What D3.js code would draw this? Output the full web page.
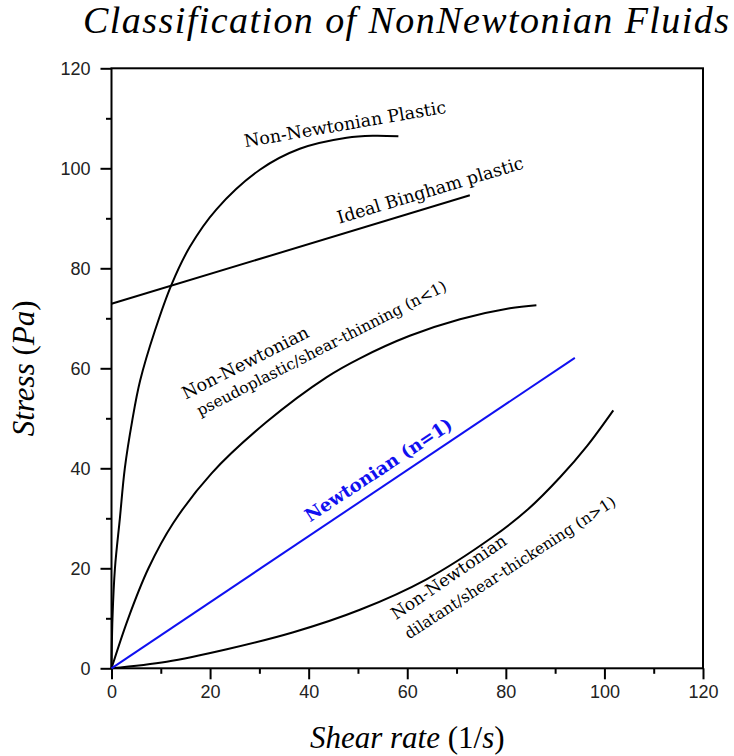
<!DOCTYPE html>
<html>
<head>
<meta charset="utf-8">
<script src="https://cdn.jsdelivr.net/npm/d3@7"></script>
<style>
  body { margin: 0; background: #fff; }
  svg { display: block; }
</style>
</head>
<body>
<svg id="chart" width="734" height="756"></svg>
<script>
// data (shear rate in 1/s, stress in Pa)
var plasticX = [0, 0.2, 0.7, 1.7, 2.7, 4.2, 5.8, 8.8, 12.2, 15.9, 21.3, 30.1, 38.2, 47.7, 53, 58.2];
var plasticY = [0, 10, 20, 30, 40, 49.5, 57.5, 67.5, 76.8, 84.3, 91.8, 99.7, 103.9, 106.1, 106.5, 106.4];
var binghamX = [0, 72.7];
var binghamY = [72.9, 94.6];
var pseudoX = [0, 3.4, 7.5, 12.5, 20.3, 31.5, 43.6, 50.4, 60.5, 70.7, 80.8, 86.2];
var pseudoY = [0, 10, 20, 29, 39, 49.3, 58.2, 62, 66.5, 69.8, 72, 72.6];
var newtonX = [0, 94];
var newtonY = [0, 62.1];
var dilatX = [0, 11.2, 23.4, 36.9, 50.4, 63.9, 77.4, 84.5, 91, 96.5, 101.8];
var dilatY = [0, 1.3, 3.8, 7.2, 11.7, 17.8, 26.3, 31.8, 38.2, 44.5, 51.6];
var majorTicks = [0, 20, 40, 60, 80, 100, 120];
var minorTicks = [10, 30, 50, 70, 90, 110];

var STROKE = "#000";
var BLUE = "#1010f0";
var LABEL_FONT = "'DejaVu Serif', serif";
var MATH_FONT = "'Liberation Serif', serif";

var margin = {left: 111.5, right: 31, top: 68.3, bottom: 87.7};
var width = 734 - margin.left - margin.right
  , height = 756 - margin.top - margin.bottom;

var svg = d3.select("#chart");
var g = svg.append("g").attr("transform", "translate(" + margin.left + "," + margin.top + ")");

var x = d3.scaleLinear().domain([0, 120]).range([0, width]);
var y = d3.scaleLinear().domain([0, 120]).range([height, 0]);

// Helpers
var zipXY = function(xs, ys) {
  return xs.map(function(v, i) { return [v, ys[i]]; });
}

var line = d3.line()
  .x(function(d) { return x(d[0]); })
  .y(function(d) { return y(d[1]); })
  .curve(d3.curveCatmullRom.alpha(0.5));

var addCurve = function(xs, ys, color) {
  g.append("path")
    .datum(zipXY(xs, ys))
    .attr("d", line)
    .attr("fill", "none")
    .attr("stroke", color)
    .attr("stroke-width", 2);
}

var addLabel = function(txt, cx, cy, angle, size, weight, color) {
  svg.append("text")
    .attr("transform", "translate(" + cx + "," + cy + ") rotate(" + angle + ")")
    .attr("text-anchor", "middle")
    .attr("font-family", LABEL_FONT)
    .attr("font-size", size)
    .attr("font-weight", weight)
    .attr("fill", color)
    .text(txt);
}

// axes: minor ticks first, then major with labels
var styleAxis = function(sel) {
  sel.select(".domain").remove();
  sel.selectAll("line").attr("stroke", STROKE).attr("stroke-width", 2);
  sel.selectAll("text")
    .attr("font-family", "'Liberation Sans', Arial, sans-serif")
    .attr("font-size", 18)
    .attr("fill", "#222");
}

g.append("g").attr("transform", "translate(0," + height + ")")
  .call(d3.axisBottom(x).tickValues(minorTicks).tickSize(5.5).tickFormat(""))
  .call(styleAxis);
g.append("g").attr("transform", "translate(0," + height + ")")
  .call(d3.axisBottom(x).tickValues(majorTicks).tickSize(11).tickPadding(6))
  .call(styleAxis);
g.append("g")
  .call(d3.axisLeft(y).tickValues(minorTicks).tickSize(5.5).tickFormat(""))
  .call(styleAxis);
g.append("g")
  .call(d3.axisLeft(y).tickValues(majorTicks).tickSize(11).tickPadding(10))
  .call(styleAxis);

// frame
g.append("rect")
  .attr("width", width)
  .attr("height", height)
  .attr("fill", "none")
  .attr("stroke", STROKE)
  .attr("stroke-width", 2);

// curves
addCurve(plasticX, plasticY, STROKE);
addCurve(binghamX, binghamY, STROKE);
addCurve(pseudoX, pseudoY, STROKE);
addCurve(dilatX, dilatY, STROKE);
addCurve(newtonX, newtonY, BLUE);

// curve labels
addLabel("Non-Newtonian Plastic", 346, 130, -9.7, 17.5, "normal", STROKE);
addLabel("Ideal Bingham plastic", 432, 196, -16.7, 17.5, "normal", STROKE);
addLabel("Non-Newtonian", 248, 368, -26.9, 17.5, "normal", STROKE);
addLabel("pseudoplastic/shear-thinning (n<1)", 324, 353, -27, 15.5, "normal", STROKE);
addLabel("Newtonian (n=1)", 382, 475, -33.4, 18, "bold", BLUE);
addLabel("Non-Newtonian", 452, 582, -34.4, 17, "normal", STROKE);
addLabel("dilatant/shear-thickening (n>1)", 513, 572, -33, 15.5, "normal", STROKE);

// title
svg.append("text")
  .attr("x", 406)
  .attr("y", 33)
  .attr("text-anchor", "middle")
  .attr("font-family", MATH_FONT)
  .attr("font-style", "italic")
  .attr("font-size", 38)
  .attr("textLength", 646)
  .attr("lengthAdjust", "spacing")
  .text("Classification of NonNewtonian Fluids");

// axis titles
var xt = svg.append("text")
  .attr("x", margin.left + width / 2)
  .attr("y", 748)
  .attr("text-anchor", "middle")
  .attr("font-family", MATH_FONT)
  .attr("font-size", 31);
xt.append("tspan").attr("font-style", "italic").text("Shear rate ");
xt.append("tspan").text("(1/");
xt.append("tspan").attr("font-style", "italic").text("s");
xt.append("tspan").text(")");

var yt = svg.append("text")
  .attr("transform", "translate(34," + (margin.top + height / 2) + ") rotate(-90)")
  .attr("text-anchor", "middle")
  .attr("font-family", MATH_FONT)
  .attr("font-size", 31);
yt.append("tspan").attr("font-style", "italic").text("Stress ");
yt.append("tspan").text("(");
yt.append("tspan").attr("font-style", "italic").text("Pa");
yt.append("tspan").text(")");
</script>
</body>
</html>
